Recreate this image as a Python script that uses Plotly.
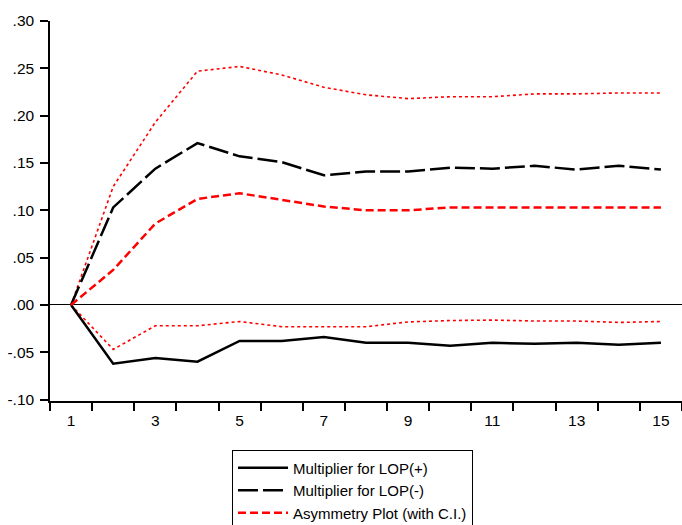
import plotly.graph_objects as go

periods = list(range(1, 16))
lop_pos = [0, -0.062, -0.056, -0.060, -0.038, -0.038, -0.034, -0.040, -0.040, -0.043, -0.040, -0.041, -0.040, -0.042, -0.040]
lop_neg = [0, 0.103, 0.144, 0.171, 0.157, 0.151, 0.137, 0.141, 0.141, 0.145, 0.144, 0.147, 0.143, 0.147, 0.143]
asym = [0, 0.037, 0.086, 0.112, 0.118, 0.111, 0.104, 0.100, 0.100, 0.103, 0.103, 0.103, 0.103, 0.103, 0.103]
ci_upper = [0, 0.125, 0.193, 0.247, 0.252, 0.243, 0.230, 0.222, 0.218, 0.220, 0.220, 0.223, 0.223, 0.224, 0.224]
ci_lower = [0, -0.047, -0.022, -0.022, -0.0175, -0.023, -0.023, -0.023, -0.018, -0.0165, -0.016, -0.017, -0.017, -0.0185, -0.0175]

y_ticks = [-0.10, -0.05, 0.0, 0.05, 0.10, 0.15, 0.20, 0.25, 0.30]
y_labels = ["-.10", "-.05", ".00", ".05", ".10", ".15", ".20", ".25", ".30"]
x_ticks = [1, 3, 5, 7, 9, 11, 13, 15]

fig = go.Figure()
fig.add_trace(go.Scatter(x=periods, y=ci_upper, mode="lines", showlegend=False,
                         line=dict(color="#ff0000", width=1.6, dash="3px,3px")))
fig.add_trace(go.Scatter(x=periods, y=ci_lower, mode="lines", showlegend=False,
                         line=dict(color="#ff0000", width=1.6, dash="3px,3px")))
fig.add_trace(go.Scatter(x=periods, y=lop_pos, mode="lines", name="Multiplier for LOP(+)",
                         line=dict(color="black", width=2.5)))
fig.add_trace(go.Scatter(x=periods, y=lop_neg, mode="lines", name="Multiplier for LOP(-)",
                         line=dict(color="black", width=2.5, dash="20px,5px")))
fig.add_trace(go.Scatter(x=periods, y=asym, mode="lines", name="Asymmetry Plot (with C.I.)",
                         line=dict(color="#ff0000", width=2.5, dash="8px,4px")))

fig.update_layout(
    width=682, height=525,
    margin=dict(l=50, r=0, t=21, b=124),
    paper_bgcolor="white", plot_bgcolor="white",
    font=dict(family="Liberation Sans, Arial, sans-serif", color="black", size=15.5),
    legend=dict(xref="paper", yref="container", x=0.288, y=0.142,
                xanchor="left", yanchor="top",
                bordercolor="black", borderwidth=1, font=dict(size=15),
                tracegroupgap=0, itemwidth=50),
)
fig.update_xaxes(range=[0.5, 15.5], tickmode="array", tickvals=x_ticks,
                 ticktext=[str(v) for v in x_ticks], ticks="", showgrid=False,
                 showline=True, linecolor="black", linewidth=1.5, zeroline=False,
                 automargin=False,
                 minor=dict(tickmode="array", tickvals=[v + 0.5 for v in range(0, 16)],
                            ticks="outside", ticklen=8, tickwidth=1.5, tickcolor="black",
                            showgrid=False),
                 ticklabelstandoff=5)
fig.update_yaxes(range=[-0.1015, 0.30], tickmode="array", tickvals=y_ticks, ticktext=y_labels,
                 ticks="outside", ticklen=8, tickwidth=1.5, tickcolor="black",
                 automargin=False, ticklabelstandoff=3,
                 showgrid=False, showline=True, linecolor="black", linewidth=1.5,
                 zeroline=True, zerolinecolor="black", zerolinewidth=1)

# remove the browser's default 8px body margin so the figure fills the window exactly
fig.write_html("out.html", config={"displayModeBar": False},
               post_script="document.body.style.margin='0';document.body.style.overflow='hidden';")
